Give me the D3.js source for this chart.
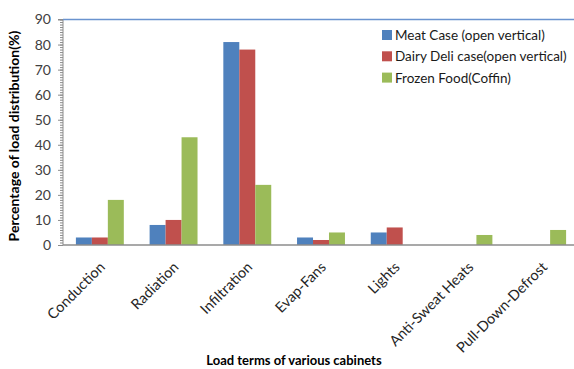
<!DOCTYPE html>
<html>
<head>
<meta charset="utf-8">
<script src="https://cdn.jsdelivr.net/npm/d3@7"></script>
<style>
  html, body { margin: 0; padding: 0; background: #fff; }
  svg { display: block; font-family: Lato, "Open Sans", sans-serif; }
</style>
</head>
<body>
<svg id="chart" width="574" height="369"></svg>
<script>
// Load terms and the share (%) of each term per cabinet type
const categories = ["Conduction", "Radiation", "Infiltration", "Evap-Fans", "Lights", "Anti-Sweat Heats", "Pull-Down-Defrost"];
const seriesNames = ["Meat Case (open vertical)", "Dairy Deli case(open vertical)", "Frozen Food(Coffin)"];
const meatCase = [3, 8, 81, 3, 5, 0, 0];
const dairyDeli = [3, 10, 78, 2, 7, 0, 0];
const frozenFood = [18, 43, 24, 5, 0, 4, 6];
const yTicks = [0, 10, 20, 30, 40, 50, 60, 70, 80, 90];
const colors = ["#4F81BD", "#C0504D", "#9BBB59"];

const seriesValues = [meatCase, dairyDeli, frozenFood];

const svg = d3.select("#chart");
const plotLeft = 63, plotRight = 579, plotTop = 19.5, plotBottom = 245;

const x0 = d3.scaleBand().domain(categories).range([plotLeft, plotRight])
  .paddingInner(0.35).paddingOuter(0.175);
const x1 = d3.scaleBand().domain(d3.range(seriesNames.length)).range([0, x0.bandwidth()]);
const y = d3.scaleLinear().domain([0, 90]).range([plotBottom, plotTop]);

// minor ticks every 1 unit on the left of the value axis
svg.append("g")
  .attr("transform", `translate(${plotLeft},0)`)
  .call(d3.axisLeft(y).ticks(90).tickSize(3).tickFormat(""))
  .call(g => g.select(".domain").remove())
  .call(g => g.selectAll("line").attr("stroke", "#8c8c8c"));

// value axis with major ticks
const yAxis = svg.append("g")
  .attr("transform", `translate(${plotLeft},0)`)
  .call(d3.axisLeft(y).tickValues(yTicks).tickSize(5).tickPadding(7));
yAxis.select(".domain").attr("stroke", "#8c8c8c").attr("d", `M-5,${plotTop}H0V${plotBottom}`);
yAxis.selectAll("line").attr("stroke", "#8c8c8c");
yAxis.selectAll("text").attr("fill", "#404040").style("font-size", "14px")
  .style("font-family", "Lato, sans-serif");

// top border line of the plot area
svg.append("line")
  .attr("x1", plotLeft).attr("x2", 574).attr("y1", y(90)).attr("y2", y(90))
  .attr("stroke", "#6a93cf").attr("stroke-width", 1.3);

// bars
const groups = svg.append("g").selectAll("g")
  .data(categories)
  .join("g")
  .attr("transform", d => `translate(${x0(d)},0)`);

groups.selectAll("rect")
  .data((d, i) => seriesValues.map((vals, s) => ({ s, v: vals[i] })))
  .join("rect")
  .attr("x", d => x1(d.s))
  .attr("width", x1.bandwidth())
  .attr("y", d => y(d.v))
  .attr("height", d => y(0) - y(d.v))
  .attr("fill", d => colors[d.s]);

// category axis
const xAxis = svg.append("g")
  .attr("transform", `translate(0,${plotBottom})`)
  .call(d3.axisBottom(x0).tickSize(0).tickPadding(0));
xAxis.select(".domain").attr("stroke", "#8c8c8c").attr("stroke-width", 1.3)
  .attr("d", `M${plotLeft},0H574`);
xAxis.selectAll("text")
  .attr("fill", "#262626")
  .style("font-size", "14.5px")
  .style("font-family", "Lato, sans-serif")
  .attr("text-anchor", "end")
  .attr("dy", null)
  .attr("y", 0)
  .attr("transform", "translate(6,23) rotate(-45)");

// axis titles
svg.append("text")
  .attr("transform", `translate(19,136) rotate(-90)`)
  .attr("text-anchor", "middle")
  .style("font-size", "14px").style("font-weight", "bold")
  .attr("fill", "#000")
  .text("Percentage of load distribution(%)");

svg.append("text")
  .attr("x", 294).attr("y", 365)
  .attr("text-anchor", "middle")
  .style("font-size", "13px").style("font-weight", "bold")
  .attr("fill", "#000")
  .text("Load terms of various cabinets");

// legend
const legend = svg.append("g").attr("transform", "translate(382,30)");
seriesNames.forEach((name, i) => {
  const g = legend.append("g").attr("transform", `translate(0,${i * 21.3})`);
  g.append("rect").attr("width", 10).attr("height", 10).attr("fill", colors[i]);
  g.append("text").attr("x", 13).attr("y", 10)
    .style("font-size", "13.5px").attr("fill", "#1a1a1a").text(name);
});
</script>
</body>
</html>
